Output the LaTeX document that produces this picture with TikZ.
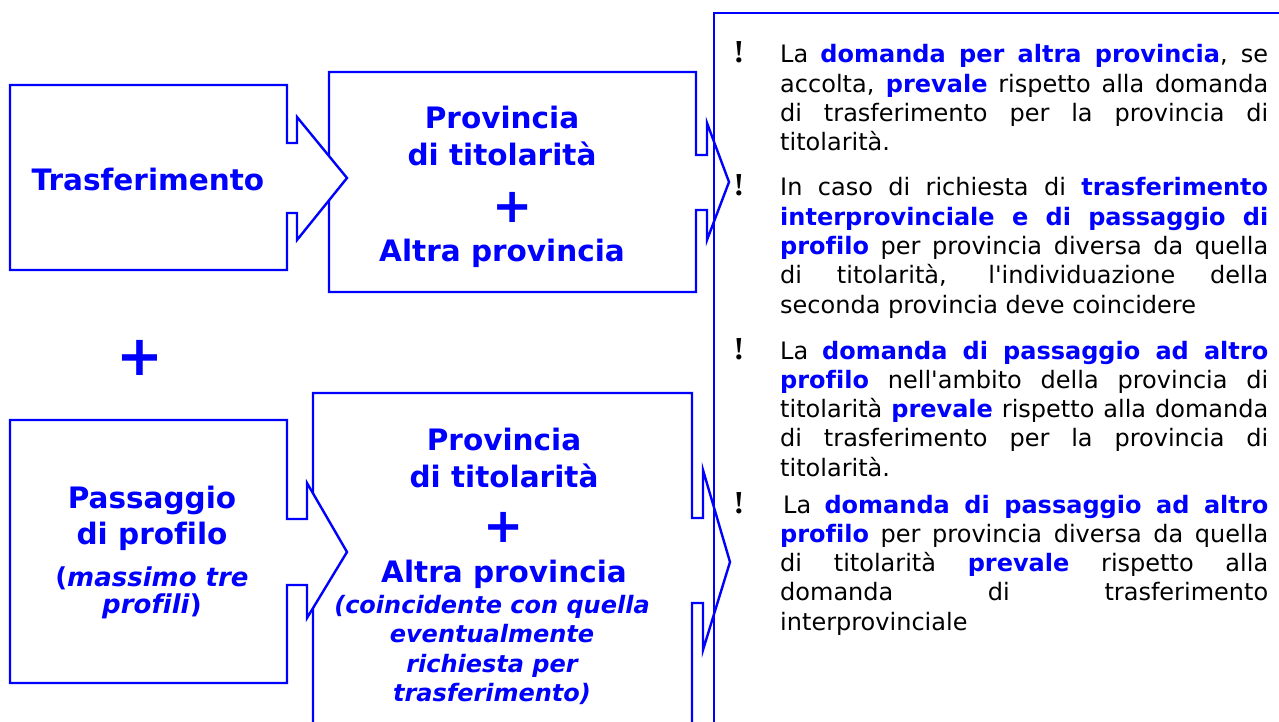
\documentclass[tikz,border=0pt]{standalone}
\usepackage{fontspec}
\newfontfamily\verdana{DejaVu Sans}[Ligatures=CommonOff]
\newfontfamily\bangfont{Liberation Serif}
\definecolor{blu}{RGB}{0,0,255}
\newcommand{\evid}[1]{\textbf{\color{blu}#1}}

\begin{document}
\begin{tikzpicture}[x=1pt,y=-1pt,
  forma/.style={draw=blu, line width=2.4pt, fill=white},
  titolo/.style={text=blu, font=\verdana\fontsize{29.5}{34}\selectfont\bfseries, inner sep=0pt, anchor=base},
  nota/.style={text=blu, font=\verdana\fontsize{24}{29}\selectfont\bfseries\itshape, inner sep=0pt, anchor=base},
  piu/.style={text=blu, font=\verdana\fontsize{48}{48}\selectfont\bfseries, inner sep=0pt},
  punto/.style={font=\bangfont\fontsize{32}{32}\selectfont\bfseries, inner sep=0pt, anchor=base},
  testo/.style={font=\verdana\fontsize{24}{29.3}\selectfont, text width=488pt, align=justify, inner sep=0pt, anchor=base west}]
\useasboundingbox (0,0) rectangle (1279,722);

% riga in alto
\draw [forma](329,72) -- (696,72) -- (696,155) -- (707,155) -- (707,123) -- (729,182)
  -- (707,240) -- (707,210) -- (696,210) -- (696,292) -- (329,292) -- cycle;
\draw [forma](10,85) -- (287,85) -- (287,143) -- (297,143) -- (297,117) -- (347,178)
  -- (297,240) -- (297,213) -- (287,213) -- (287,270) -- (10,270) -- cycle;

% riga in basso
\draw [forma](313,393) -- (692,393) -- (692,518) -- (703,518) -- (703,470) -- (730,562)
  -- (703,650) -- (703,603) -- (692,603) -- (692,740) -- (313,740) -- cycle;
\draw [forma](10,420) -- (287,420) -- (287,519) -- (307,519) -- (307,483) -- (347,552)
  -- (307,618) -- (307,585) -- (287,585) -- (287,683) -- (10,683) -- cycle;

% pannello note
\draw [blu, line width=2.4pt](714,740) -- (714,13) -- (1290,13);

\node [titolo] (tras) at (148,191){Trasferimento};

\node [titolo] (prov1) at (502,129){Provincia};
\node [titolo] (tit1) at (502,166){di titolarità};
\node [piu] (piu1) at (513,207){+};
\node [titolo] (altra1) at (502,261){Altra provincia};

\node [piu, font=\verdana\fontsize{56}{56}\selectfont\bfseries] (piu0) at (140,358){+};

\node [titolo] (pass) at (152,508){Passaggio};
\node [titolo] (prof) at (152,544){di profilo};
\node [nota, font=\verdana\fontsize{26}{30}\selectfont\bfseries] (mass) at (152,586){(\textit{massimo tre}};
\node [nota, font=\verdana\fontsize{26}{30}\selectfont\bfseries] (mass2) at (152,613){\textit{profili})};

\node [titolo] (prov2) at (504,450){Provincia};
\node [titolo] (tit2) at (504,487){di titolarità};
\node [piu] (piu2) at (504,527){+};
\node [titolo] (altra2) at (504,582){Altra provincia};
\node [nota] (coin1) at (492,613){(coincidente con quella};
\node [nota] (coin2) at (492,642){eventualmente};
\node [nota] (coin3) at (492,672){richiesta per};
\node [nota] (coin4) at (492,701){trasferimento)};

\node [punto] (p1) at (739,63){!};
\node [punto] (p2) at (739,196){!};
\node [punto] (p3) at (739,359){!};
\node [punto] (p4) at (739,513){!};

\node [testo] (n1) at (780,63){La \evid{domanda per altra provincia}, se\linebreak accolta, \evid{prevale} rispetto alla domanda\linebreak di trasferimento per la provincia di\linebreak titolarità.};
\node [testo] (n2) at (780,196){In caso di richiesta di \evid{trasferimento\linebreak interprovinciale e di passaggio di\linebreak profilo} per provincia diversa da quella\linebreak di titolarità, l'individuazione della\linebreak seconda provincia deve coincidere};
\node [testo] (n3) at (780,359){La \evid{domanda di passaggio ad altro\linebreak profilo} nell'ambito della provincia di\linebreak titolarità \evid{prevale} rispetto alla domanda\linebreak di trasferimento per la provincia di\linebreak titolarità.};
\node [testo] (n4) at (780,513){\hspace*{3pt}La \evid{domanda di passaggio ad altro\linebreak profilo} per provincia diversa da quella\linebreak di titolarità \evid{prevale} rispetto alla\linebreak domanda di trasferimento\linebreak interprovinciale};
\end{tikzpicture}
\end{document}
